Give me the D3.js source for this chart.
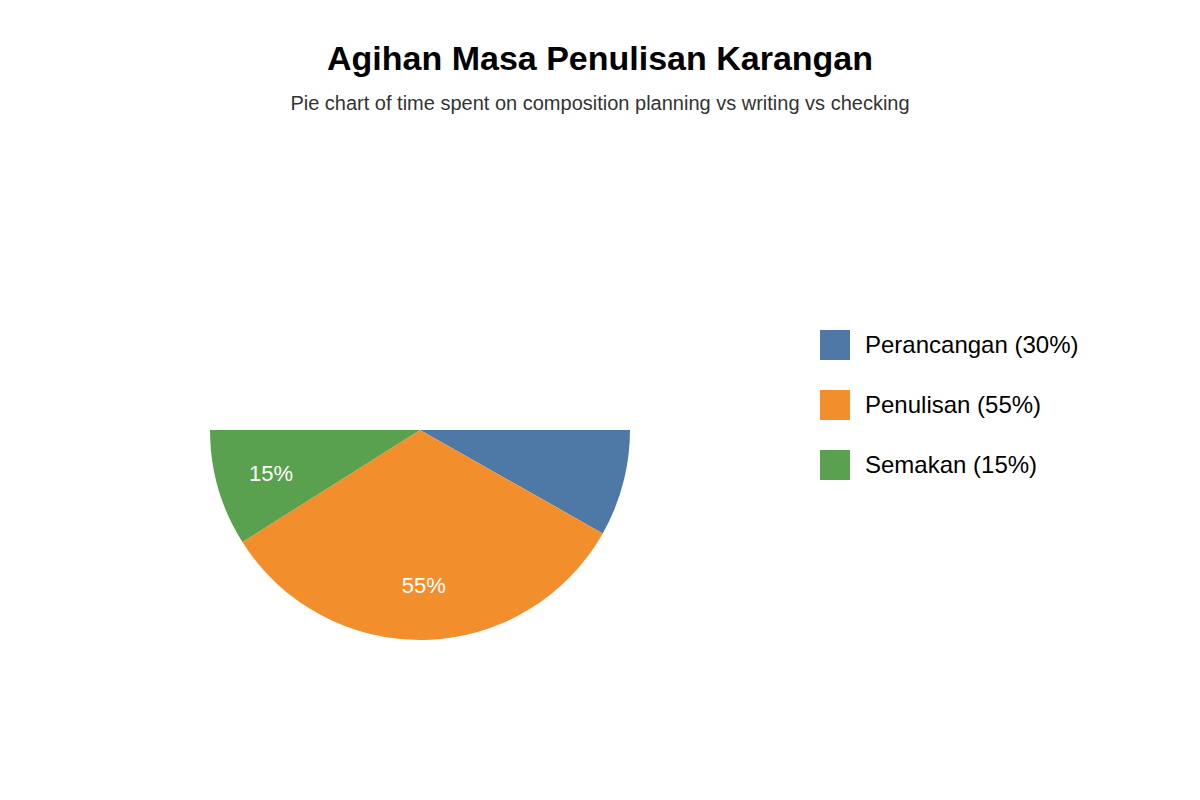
<!DOCTYPE html>
<html>
<head>
<meta charset="utf-8">
<script src="https://cdn.jsdelivr.net/npm/d3@7"></script>
<style>
  body { margin: 0; background: #fff; }
  text { font-family: "Liberation Sans", Arial, sans-serif; }
</style>
</head>
<body>
<div id="chart"></div>
<script>
// chart values
const categories = ["Perancangan", "Penulisan", "Semakan"];
const shares = [30, 55, 15];

const width = 1200;
const height = 800;
const radius = 210;
const cx = 420;
const cy = 430;

const color = d3.scaleOrdinal()
  .domain(categories)
  .range(["#4e79a7", "#f28e2b", "#59a14f"]);

const svg = d3.select("#chart").append("svg")
  .attr("width", width)
  .attr("height", height)
  .attr("viewBox", `0 0 ${width} ${height}`);

svg.append("text")
  .attr("x", width / 2)
  .attr("y", 70)
  .attr("text-anchor", "middle")
  .attr("font-size", 34)
  .attr("font-weight", "bold")
  .attr("fill", "#000")
  .text("Agihan Masa Penulisan Karangan");

svg.append("text")
  .attr("x", width / 2)
  .attr("y", 110)
  .attr("text-anchor", "middle")
  .attr("font-size", 20)
  .attr("fill", "#333")
  .text("Pie chart of time spent on composition planning vs writing vs checking");

// only the lower half of the pie shows
svg.append("clipPath")
  .attr("id", "pie-clip")
  .append("rect")
  .attr("x", -radius - 5)
  .attr("y", 0)
  .attr("width", radius * 2 + 10)
  .attr("height", radius + 5);

const slices = categories.map((c, i) => ({ name: c, value: shares[i] }));

const pie = d3.pie()
  .sort(null)
  .value(d => d.value)
  .startAngle(55 * Math.PI / 180)
  .endAngle(270 * Math.PI / 180);

const arc = d3.arc().innerRadius(0).outerRadius(radius);
const labelArc = d3.arc().innerRadius(100).outerRadius(radius);

const g = svg.append("g")
  .attr("transform", `translate(${cx},${cy})`)
  .attr("clip-path", "url(#pie-clip)");

const arcs = pie(slices);

g.selectAll("path.slice")
  .data(arcs)
  .enter()
  .append("path")
  .attr("class", "slice")
  .attr("d", arc)
  .attr("fill", d => color(d.data.name));

g.selectAll("text.pct")
  .data(arcs)
  .enter()
  .append("text")
  .attr("class", "pct")
  .attr("transform", d => `translate(${labelArc.centroid(d)})`)
  .attr("text-anchor", "middle")
  .attr("dy", "0.35em")
  .attr("font-size", 22)
  .attr("fill", "#fff")
  .text(d => `${d.data.value}%`);

// legend
const legend = svg.append("g")
  .attr("transform", "translate(820,330)");

const rows = legend.selectAll("g.row")
  .data(slices)
  .enter()
  .append("g")
  .attr("class", "row")
  .attr("transform", (d, i) => `translate(0,${i * 60})`);

rows.append("rect")
  .attr("width", 30)
  .attr("height", 30)
  .attr("fill", d => color(d.name));

rows.append("text")
  .attr("x", 45)
  .attr("y", 15)
  .attr("dy", "0.35em")
  .attr("font-size", 24)
  .attr("fill", "#000")
  .text(d => `${d.name} (${d.value}%)`);
</script>
</body>
</html>
